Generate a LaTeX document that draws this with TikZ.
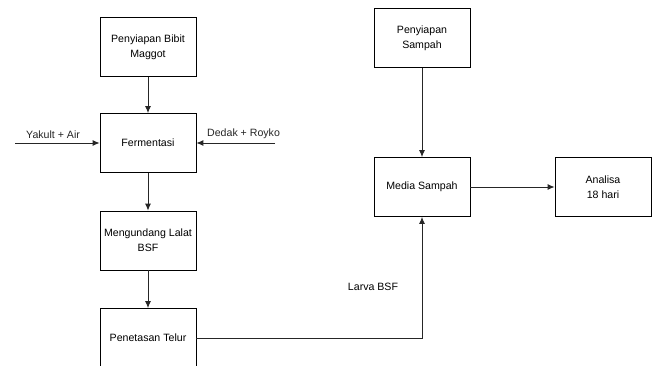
\documentclass[tikz,border=0pt]{standalone}
\usepackage{fontspec}
\setmainfont{Liberation Sans}
\usetikzlibrary{arrows.meta}

\begin{document}
\begin{tikzpicture}[x=1pt,y=-1pt,font=\fontsize{10.6}{15}\selectfont,
   box/.style={draw=black,line width=0.8pt,minimum width=96pt,minimum height=59pt,align=center,inner sep=1pt},
   link/.style={black!85,-{Latex[length=7pt,width=6pt]},line width=0.9pt}]
   \clip (0,0) rectangle (654,365);
   \useasboundingbox (0,0) rectangle (654,365);
   \node[box] (bibit) at (148,47) {Penyiapan Bibit\\Maggot};
   \node[box] (ferm) at (148,143) {Fermentasi};
   \node[box] (lalat) at (148,240.5) {Mengundang Lalat\\BSF};
   \node[box] (telur) at (148,338) {Penetasan Telur};
   \node[box] (sampah) at (422,38) {Penyiapan\\Sampah};
   \node[box] (media) at (422,187) {Media Sampah};
   \node[box] (analisa) at (603,187) {Analisa\\18 hari};
   \coordinate (yakult) at (15,143);
   \coordinate (dedak) at (275,143);
   \coordinate (belok) at (422,338);
   \draw[link] (bibit)--(ferm);
   \draw[link] (ferm)--(lalat);
   \draw[link] (lalat)--(telur);
   \draw[link] (yakult)--(ferm) node[pos=0.45,above=1pt] (yakultlbl) {Yakult + Air};
   \draw[link] (dedak)--(ferm) node[pos=0.4,above=1pt] (dedaklbl) {Dedak + Royko};
   \draw[link] (sampah)--(media);
   \draw[link] (media)--(analisa);
   \draw[link] (telur.east |- belok)--(belok)--(media);
   \node (larva) at (373,287) {Larva BSF};
\end{tikzpicture}
\end{document}
